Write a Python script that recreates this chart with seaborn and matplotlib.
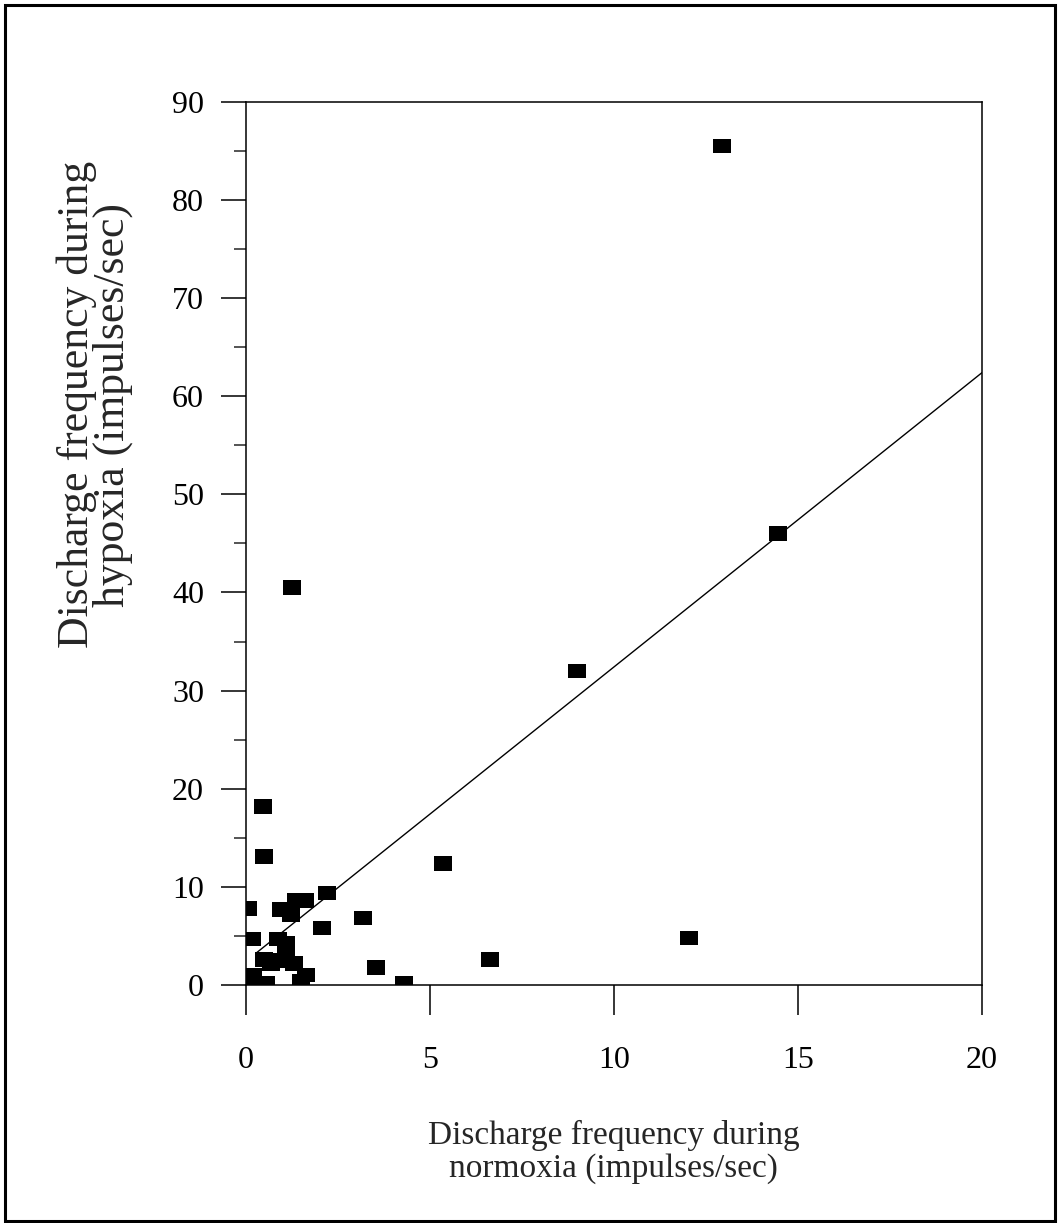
import matplotlib
matplotlib.use("Agg")
import matplotlib.pyplot as plt
import seaborn as sns
import numpy as np
import pandas as pd
from matplotlib.patches import Rectangle

# ---- data ----
normoxia = [0.05, 0.40, 0.55, 0.20, 0.50, 0.70, 0.90, 1.10, 1.30, 1.50, 1.65,
            0.17, 0.87, 1.10, 0.07, 0.97, 1.22, 1.37, 1.61, 2.22, 2.06, 3.19,
            3.55, 4.29, 5.35, 6.63, 0.48, 0.50, 1.26, 9.00, 12.05, 12.95, 14.45]
hypoxia = [0.3, 0.1, 0.2, 1.0, 2.6, 2.2, 2.5, 3.1, 2.2, 0.4, 1.0,
           4.7, 4.7, 4.3, 7.8, 7.7, 7.2, 8.6, 8.6, 9.4, 5.8, 6.8,
           1.8, 0.2, 12.4, 2.6, 18.2, 13.1, 40.5, 32.0, 4.8, 85.5, 46.0]
fit_x = [0.3, 20.0]
fit_y = [3.3, 62.4]
xticks = [0, 5, 10, 15, 20]
yticks = [0, 10, 20, 30, 40, 50, 60, 70, 80, 90]
yminor = [5, 15, 25, 35, 45, 55, 65, 75, 85]

sns.set_style("white")
plt.rcParams['font.family'] = ['Liberation Serif', 'DejaVu Serif']

df = pd.DataFrame({"normoxia": normoxia, "hypoxia": hypoxia})
fit = pd.DataFrame({"x": fit_x, "y": fit_y})

fig = plt.figure(figsize=(10.58, 12.23), dpi=100)
ax = fig.add_axes([0.2322, 0.1946, 0.6960, 0.7222])

sq = [(-1, -0.8), (1, -0.8), (1, 0.8), (-1, 0.8), (-1, -0.8)]
sns.lineplot(data=fit, x="x", y="y", color="black", lw=1.0, ax=ax)
sns.scatterplot(data=df, x="normoxia", y="hypoxia", marker=sq, s=168,
                color="black", edgecolor="none", linewidth=0, ax=ax, zorder=3)

ax.set_xlim(0, 20)
ax.set_ylim(0, 90)
ax.set_xticks(xticks)
ax.set_xticklabels([str(v) for v in xticks])
ax.set_yticks(yticks)
ax.set_yticklabels([str(v) for v in yticks])
ax.set_yticks(yminor, minor=True)

for s in ax.spines.values():
    s.set_visible(True)
    s.set_color("black")
    s.set_linewidth(1.1)

ax.tick_params(axis="x", which="major", direction="out", length=21.6, width=1.1,
               pad=22, labelsize=23, colors="black", bottom=True)
ax.tick_params(axis="y", which="major", direction="out", length=18, width=1.1,
               pad=12, labelsize=23, colors="black", left=True)
ax.tick_params(axis="y", which="minor", direction="out", length=8.6, width=1.1, left=True)

ax.set_xlabel("Discharge frequency during\nnormoxia (impulses/sec)", fontsize=24,
              linespacing=1.1)
ax.set_ylabel("Discharge frequency during\nhypoxia (impulses/sec)", fontsize=31.5,
              linespacing=0.84)
ax.xaxis.set_label_coords(0.5, -0.153)
ax.yaxis.set_label_coords(-0.153, 0.657)

fig.patches.append(Rectangle((0.005, 0.002), 0.992, 0.994, transform=fig.transFigure,
                             fill=False, edgecolor="black", linewidth=2.2))

fig.savefig("out.png", dpi=100, facecolor="white")
